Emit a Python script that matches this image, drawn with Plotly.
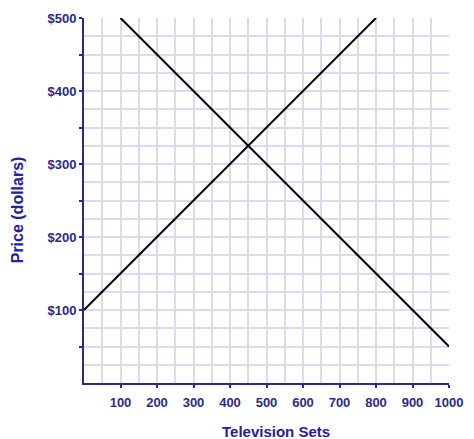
import plotly.graph_objects as go

# supply & demand lines (television sets vs price)
supply_x = [0, 800]
supply_y = [100, 500]
demand_x = [100, 1000]
demand_y = [500, 50]

x_ticks = [100, 200, 300, 400, 500, 600, 700, 800, 900, 1000]
x_labels = ["100", "200", "300", "400", "500", "600", "700", "800", "900", "1000"]
y_ticks = [50, 100, 150, 200, 250, 300, 350, 400, 450, 500]
y_labels = ["", "$100", "", "$200", "", "$300", "", "$400", "", "$500"]

navy = "#2b2a8c"
title_col = "#2420a0"
grid = "#dadaf0"

fig = go.Figure()
fig.add_trace(go.Scatter(x=supply_x, y=supply_y, mode="lines",
                         line=dict(color="black", width=2), name="Supply"))
fig.add_trace(go.Scatter(x=demand_x, y=demand_y, mode="lines",
                         line=dict(color="black", width=2), name="Demand"))

fig.update_xaxes(range=[0, 1000], tickvals=x_ticks, ticktext=x_labels,
                 ticks="outside", ticklen=3, tickwidth=2, tickcolor=navy,
                 showline=True, linecolor=navy, linewidth=2,
                 showgrid=True, gridcolor=grid, gridwidth=1.5,
                 minor=dict(dtick=50, showgrid=True, gridcolor=grid, gridwidth=1.5, ticks=""),
                 zeroline=False, automargin=False, ticklabelstandoff=3,
                 tickfont=dict(family="Liberation Sans", size=13, color=navy, weight="bold"))
fig.update_yaxes(range=[0, 500], tickvals=y_ticks, ticktext=y_labels,
                 ticks="outside", ticklen=3, tickwidth=2, tickcolor=navy,
                 showline=True, linecolor=navy, linewidth=2,
                 showgrid=True, gridcolor=grid, gridwidth=1.5,
                 minor=dict(dtick=25, showgrid=True, gridcolor=grid, gridwidth=1.5, ticks=""),
                 zeroline=False, automargin=False,
                 tickfont=dict(family="Liberation Sans", size=13, color=navy, weight="bold"))

# axis titles as annotations so they can sit where the original has them
fig.add_annotation(text="Television Sets", xref="paper", yref="paper",
                   x=0.525, y=-0.134, xanchor="center", yanchor="middle", showarrow=False,
                   font=dict(family="Liberation Sans", size=15, color=title_col, weight="bold"))
fig.add_annotation(text="Price (dollars)", xref="paper", yref="paper", textangle=-90,
                   x=-0.18, y=0.474, xanchor="center", yanchor="middle", showarrow=False,
                   font=dict(family="Liberation Sans", size=16, color=title_col, weight="bold"))

# page body adds an 8px offset, so the figure is a bit smaller than the window
fig.update_layout(width=466, height=431, showlegend=False,
                  margin=dict(l=76, r=25, t=10, b=56),
                  plot_bgcolor="white", paper_bgcolor="white")

fig.write_html("out.html")
